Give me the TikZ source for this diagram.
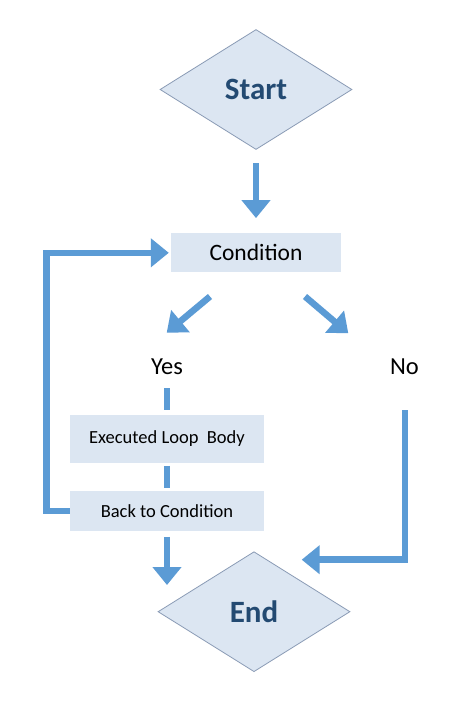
\documentclass[tikz,border=0pt]{standalone}
\usepackage{fontspec}
\setmainfont{Carlito}
\usetikzlibrary{arrows.meta,positioning,calc,shapes.geometric}
\definecolor{boxfill}{HTML}{DCE6F2}
\definecolor{flowblue}{HTML}{5B9BD5}
\definecolor{edgegray}{HTML}{8A9BB5}
\definecolor{titleblue}{HTML}{234A72}
\tikzset{
  terminal/.style={diamond, draw=edgegray, line width=0.8pt, fill=boxfill, minimum width=192pt, minimum height=120pt, inner sep=0pt, font=\fontsize{31}{36}\selectfont\bfseries, text=titleblue},
  test/.style={rectangle, fill=boxfill, minimum width=170pt, minimum height=39pt, inner sep=0pt, font=\fontsize{23.5}{28}\selectfont},
  action/.style={rectangle, fill=boxfill, minimum width=194pt, inner sep=0pt, font=\fontsize{18.5}{22}\selectfont},
  answer/.style={font=\fontsize{24.5}{28}\selectfont, inner sep=0pt},
  flow/.style={-{Triangle[length=18pt,width=28pt]}, line width=6.5pt, flowblue},
  link/.style={line width=6.5pt, flowblue}
}

\begin{document}
\begin{tikzpicture}[x=1pt,y=-1pt]
  \useasboundingbox[fill=white] (0,0) rectangle (450,720);
  % nodes
  \node[terminal] (start) at (256,89.5) {Start};
  \node[test] (cond) at (256,252.8) {Condition};
  \node[answer] (yes) at (167,366.5) {Yes};
  \node[answer] (no) at (404.5,366.5) {No};
  \node[action, minimum height=47.5pt] (body) at (167,438.8) {Executed Loop\ \ Body};
  \node[action, minimum height=39.5pt] (back) at (167,510.8) {Back to Condition};
  \node[terminal] (finish) at (254,611.7) {End};
  % free ends
  \coordinate (yestip) at (166.7,332.7);
  \coordinate (notip) at (348.3,333.3);
  \coordinate (finishtip) at (167,585);
  \coordinate (noin) at (301.7,559.7);
  % connectors
  \draw[flow, shorten <=13.5pt, shorten >=15pt] (start) -- (cond);
  \draw[flow] ($(cond.south)+(-46,24)$) -- (yestip);
  \draw[flow] ($(cond.south)+(49,24)$) -- (notip);
  \draw[link] ($(yes)+(0,21.5)$) -- ($(body.north)+(0,-5)$);
  \draw[link, shorten <=3pt, shorten >=3pt] (body) -- (back);
  \draw[flow, shorten <=6pt] (back) -- (finishtip);
  \draw[flow] ($(no)+(0.5,43.5)$) |- (noin);
  \draw[flow, shorten >=2pt] (back.west) -- ++(-23.3,0) |- (cond.west);
\end{tikzpicture}
\end{document}
